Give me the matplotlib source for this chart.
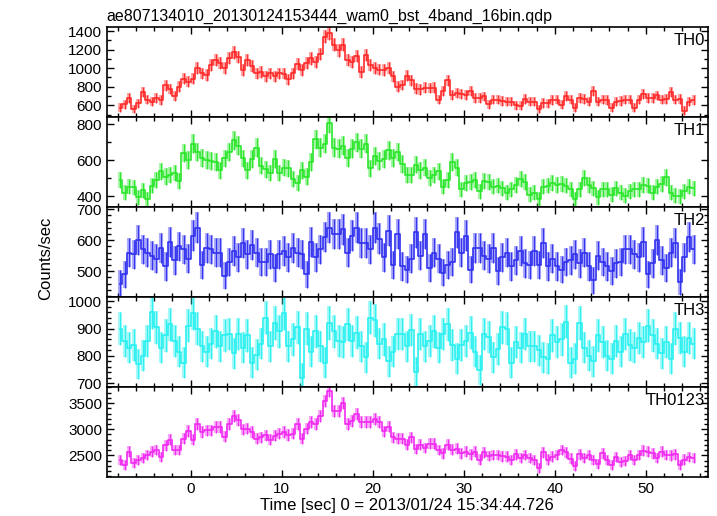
import numpy as np
import matplotlib.pyplot as plt
from matplotlib.ticker import MultipleLocator

plt.rcParams['font.family'] = ['Liberation Sans', 'DejaVu Sans']

title = "ae807134010_20130124153444_wam0_bst_4band_16bin.qdp"
xlabel = "Time [sec] 0 = 2013/01/24 15:34:44.726"
ylabel = "Counts/sec"

# bins every 0.5 s, first bin centre at -7.75 s
t_first = -7.75
t_bin = 0.5
exposure = 0.25  # original bin length, for the poisson error bars

band_names = ["TH0", "TH1", "TH2", "TH3", "TH0123"]
band_colors = ["#ff2a2a", "#2ae62a", "#3030f0", "#2af0f0", "#f02af0"]

th0 = [575, 610, 680, 560, 620, 740, 660, 640, 675, 655, 815, 775, 700, 800, 885, 855,
       885, 1000, 945, 925, 1035, 1090, 1050, 1000, 1110, 1170, 1120, 980, 1090, 1020, 945, 960,
       910, 945, 910, 945, 940, 880, 945, 1045, 980, 1050, 1105, 1070, 1150, 1340, 1380, 1250,
       1190, 1250, 1090, 1070, 1130, 960, 1140, 1035, 1000, 985, 980, 1000, 910, 800, 820, 920,
       870, 780, 770, 790, 785, 790, 660, 750, 870, 710, 730, 720, 710, 750, 680, 675,
       695, 610, 660, 660, 645, 640, 640, 600, 595, 670, 640, 640, 560, 625, 620, 655,
       660, 605, 700, 660, 575, 675, 670, 640, 750, 640, 660, 655, 575, 640, 645, 660,
       660, 575, 660, 720, 675, 680, 705, 660, 665, 740, 660, 665, 540, 640, 655]

th1 = [490, 420, 455, 450, 395, 435, 385, 460, 490, 540, 510, 520, 530, 485, 640, 600,
       690, 645, 615, 600, 595, 590, 545, 610, 645, 710, 680, 610, 545, 605, 670, 570,
       550, 530, 605, 530, 560, 555, 495, 475, 545, 510, 590, 715, 670, 690, 805, 670,
       665, 680, 615, 665, 700, 665, 690, 555, 625, 595, 605, 655, 615, 645, 580, 520,
       520, 575, 545, 560, 500, 520, 540, 455, 490, 590, 560, 440, 475, 480, 490, 430,
       485, 480, 455, 460, 445, 420, 440, 465, 495, 480, 410, 420, 385, 455, 460, 475,
       465, 470, 460, 440, 385, 440, 500, 465, 445, 395, 440, 440, 410, 445, 420, 405,
       430, 440, 440, 465, 460, 420, 455, 470, 505, 420, 405, 400, 430, 455, 445]

th2 = [460, 490, 560, 555, 600, 570, 560, 550, 540, 575, 515, 595, 535, 580, 570, 540,
       615, 640, 520, 575, 570, 560, 560, 485, 530, 565, 545, 590, 555, 585, 560, 530,
       530, 555, 510, 555, 565, 545, 575, 560, 555, 490, 595, 545, 570, 610, 640, 620,
       620, 635, 560, 615, 640, 590, 590, 570, 640, 605, 545, 630, 520, 620, 515, 505,
       540, 625, 550, 620, 510, 560, 540, 495, 520, 530, 625, 560, 615, 505, 575, 575,
       550, 540, 575, 500, 545, 560, 515, 535, 565, 525, 520, 565, 520, 590, 515, 540,
       515, 505, 530, 535, 555, 525, 560, 515, 470, 550, 530, 515, 500, 525, 530, 570,
       570, 555, 545, 595, 490, 525, 600, 535, 510, 560, 590, 465, 545, 610, 570]

th3 = [900, 855, 830, 840, 770, 800, 855, 960, 905, 830, 875, 915, 855, 815, 775, 910,
       955, 900, 835, 815, 845, 890, 835, 875, 880, 810, 880, 830, 875, 775, 805, 845,
       940, 835, 920, 890, 955, 835, 860, 905, 720, 900, 815, 890, 835, 775, 920, 890,
       855, 850, 915, 855, 885, 835, 795, 940, 930, 845, 860, 780, 815, 880, 880, 835,
       895, 740, 880, 835, 855, 890, 830, 880, 915, 840, 790, 840, 855, 885, 815, 750,
       880, 870, 795, 825, 905, 900, 775, 850, 830, 880, 835, 835, 820, 795, 790, 875,
       850, 860, 925, 775, 790, 920, 830, 800, 780, 875, 850, 800, 790, 855, 815, 880,
       840, 830, 865, 850, 910, 875, 845, 810, 850, 790, 900, 865, 815, 865, 845]

th0123 = [2410, 2320, 2570, 2350, 2410, 2450, 2505, 2570, 2600, 2470, 2695, 2800, 2600, 2600, 2820, 2970,
          2800, 3105, 2950, 2980, 2980, 3040, 3040, 2860, 3100, 3260, 3170, 3000, 3010, 2950, 2820, 2850,
          2885, 2800, 2880, 2915, 2945, 2890, 2915, 3100, 2820, 3010, 3135, 3105, 3250, 3545, 3735, 3355,
          3355, 3500, 3105, 3165, 3290, 3135, 3135, 3140, 3200, 3135, 2960, 3050, 2850, 2820, 2820, 2700,
          2850, 2620, 2700, 2640, 2720, 2720, 2600, 2540, 2700, 2610, 2630, 2540, 2570, 2520, 2570, 2420,
          2560, 2490, 2505, 2505, 2480, 2475, 2410, 2520, 2450, 2505, 2445, 2410, 2250, 2560, 2420, 2475,
          2505, 2600, 2560, 2440, 2290, 2520, 2450, 2505, 2410, 2340, 2540, 2410, 2320, 2470, 2380, 2390,
          2505, 2410, 2505, 2590, 2570, 2540, 2445, 2570, 2505, 2500, 2520, 2320, 2420, 2470, 2445]

band_rates = [th0, th1, th2, th3, th0123]

# axis settings per panel
y_limits = [(475, 1445), (343, 840), (417, 708), (687, 1016), (2090, 3813)]
y_major = [200, 200, 100, 100, 500]
y_minor = [100, 100, 20, 20, 100]
x_limits = (-9.2, 56.8)


def main():
    fig, axes = plt.subplots(5, 1, sharex=True, figsize=(7.17, 5.16), dpi=100)
    fig.subplots_adjust(left=0.149, right=0.987, top=0.948, bottom=0.076, hspace=0)

    for ax, name, color, rate, ylim, ymaj, ymin in zip(
            axes, band_names, band_colors, band_rates, y_limits, y_major, y_minor):
        rate = np.array(rate, dtype=float)
        t = t_first + t_bin * np.arange(len(rate))
        err = np.sqrt(rate * exposure) / exposure

        # light wide error bars, thin dark ones on top, then the step line
        ax.errorbar(t, rate, yerr=err, fmt='none', ecolor=color, elinewidth=3.0,
                    alpha=0.4, capsize=0)
        ax.errorbar(t, rate, yerr=err, fmt='none', ecolor=color, elinewidth=0.9,
                    alpha=0.95, capsize=0)
        ax.step(t, rate, where='mid', color=color, lw=1.2)

        ax.set_ylim(*ylim)
        ax.set_xlim(*x_limits)
        ax.yaxis.set_major_locator(MultipleLocator(ymaj))
        ax.yaxis.set_minor_locator(MultipleLocator(ymin))
        ax.xaxis.set_major_locator(MultipleLocator(10))
        ax.xaxis.set_minor_locator(MultipleLocator(2))
        ax.tick_params(which='both', direction='in', top=True, right=True,
                       labelsize=11, width=1.0)
        ax.tick_params(which='major', length=5)
        ax.tick_params(which='minor', length=3)
        for sp in ax.spines.values():
            sp.set_linewidth(1.2)

        ax.text(0.995, 0.93, name, transform=ax.transAxes, ha='right', va='top',
                fontsize=12)

    axes[0].set_title(title, loc='left', fontsize=11.5, pad=4)
    axes[-1].set_xlabel(xlabel, fontsize=12, labelpad=2)
    fig.text(0.063, 0.5, ylabel, rotation=90, ha='center', va='center', fontsize=12)

    fig.savefig("out.png", dpi=100)
    plt.close(fig)


if __name__ == "__main__":
    main()
